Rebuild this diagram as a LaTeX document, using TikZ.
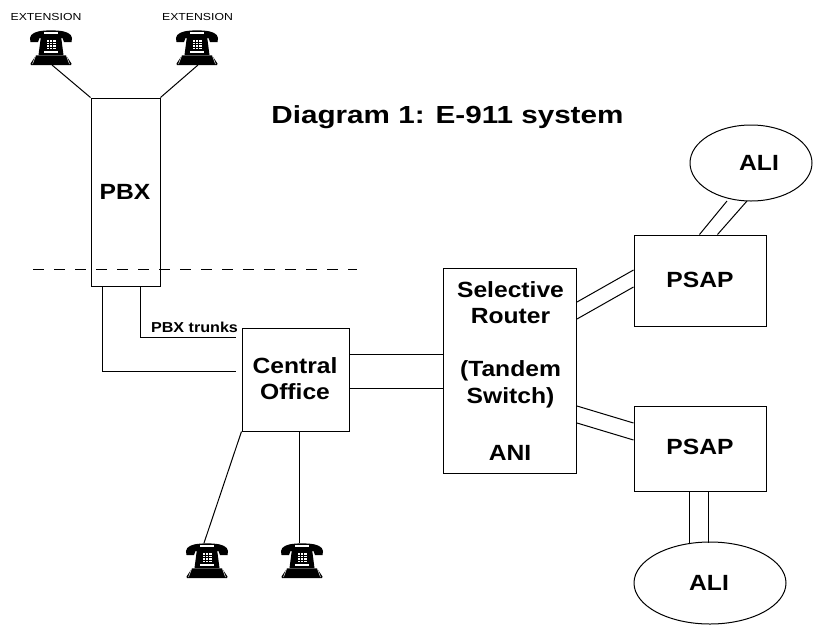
\documentclass[tikz,border=0pt]{standalone}
\usepackage{fontspec}
\setmainfont[FakeStretch=1.12]{Liberation Sans}
\newfontfamily\widefont[FakeStretch=1.2]{Liberation Sans}
\usetikzlibrary{shapes.geometric,calc}
\tikzset{
  box/.style={draw=black,line width=1pt,inner sep=0pt},
  oval/.style={box,ellipse},
  lab/.style={inner sep=0pt,align=center,font=\fontsize{22}{26.5}\selectfont\bfseries},
  wire/.style={draw=black,line width=1pt},
  phone/.pic={
    % handset
    \fill[black] (0.5,12) .. controls (-1.5,6) and (2,3) .. (8,1.5) .. controls (14,0) and (28,0) .. (34,1.5)
      .. controls (40,3) and (43.5,6) .. (41.5,12) -- (34,12) -- (32.5,8) -- (9.5,8) -- (8,12) -- cycle;
    \fill[white] (14,2.2) rectangle (28,4.4);
    % cradle and body
    \fill[black] (11,6) -- (31,6) -- (33.5,25) -- (8.5,25) -- cycle;
    \foreach \c in {0,1,2}{\foreach \r in {0,1,2,3}{
      \fill[white] ({16.5+\c*3.4},{10+\r*2.6}) rectangle +(2.2,1.5);}}
    \fill[white] (14,21) rectangle (28,22.6);
    % base
    \fill[black] (6,25.4) -- (36,25.4) -- (41.5,33.5) -- (41,35) -- (1,35) -- (0.5,33.5) -- cycle;
    \draw[white,line width=0.5pt] (5.5,26) -- (2.5,34) (36.5,26) -- (39.5,34);
    \coordinate (-top) at (18,0);
    \coordinate (-base) at (22,35);
  }
}
\begin{document}
\begin{tikzpicture}[x=1pt,y=-1pt]
\useasboundingbox (0,0) rectangle (817,625);
\node[box,minimum width=69pt,minimum height=188pt] (pbx) at (125.5,192) {};
\node[lab] (pbxl) at (125,192) {PBX};
\node[box,minimum width=107pt,minimum height=103pt] (co) at (295.5,379.5) {};
\node[lab] (col) at (295,378.5) {Central\\Office};
\node[box,minimum width=133pt,minimum height=204.5pt] (sr) at (510,371) {};
\node[lab] (srt) at (510.5,302.5) {Selective\\Router};
\node[lab] (srm) at (510.5,384.5) {(Tandem\\Switch)};
\node[lab] (ani) at (510,453) {ANI};
\node[box,minimum width=132pt,minimum height=91pt] (p1) at (700,280.5) {};
\node[lab] (p1l) at (700,280) {PSAP};
\node[box,minimum width=132pt,minimum height=85pt] (p2) at (700,448.5) {};
\node[lab] (p2l) at (700,447) {PSAP};
\node[oval,minimum width=122pt,minimum height=76pt] (a1) at (751,163) {};
\node[lab] (a1l) at (759,163) {ALI};
\node[oval,minimum width=152pt,minimum height=82pt] (a2) at (710,583) {};
\node[lab] (a2l) at (709,583) {ALI};
\node[font=\widefont\fontsize{24.7}{30}\selectfont\bfseries,inner sep=0pt] (title) at (447.5,117) {Diagram 1: E-911 system};
\node[font=\widefont\fontsize{10.2}{13}\selectfont,inner sep=0pt] (e1) at (46,17) {EXTENSION};
\node[font=\widefont\fontsize{10.2}{13}\selectfont,inner sep=0pt] (e2) at (197.5,17) {EXTENSION};
\node[font=\fontsize{14.4}{16}\selectfont\bfseries,inner sep=0pt] (tr) at (194.5,327) {PBX trunks};
\pic (t1) at (30,30) {phone};
\pic (t2) at (176,30) {phone};
\pic (t3) at (186,543) {phone};
\pic (t4) at (281,543) {phone};
\coordinate (d1) at (33,269);
\coordinate (d2) at (357,269);
\draw[wire,dash pattern=on 10.5pt off 10.5pt] (d1) -- (d2);
\draw[wire] (t1-base) -- (pbx.north west);
\draw[wire] (t2-base) -- (pbx.north east);
\coordinate (tk1) at (236,337);
\coordinate (tk2) at (236,371);
\draw[wire] ($(pbx.south west)+(50,0)$) |- (tk1);
\draw[wire] ($(pbx.south west)+(12,0)$) |- (tk2);
\foreach \yy in {354,388}{\draw[wire] (co.east |- 0,\yy) -- (sr.west |- 0,\yy);}
\draw[wire] (co.south west) -- (t3-top);
\draw[wire] (t4-top |- co.south) -- (t4-top);
\draw[wire] (sr.east |- 0,302) -- (p1.west |- 0,270);
\draw[wire] (sr.east |- 0,319) -- (p1.west |- 0,287);
\draw[wire] (sr.east |- 0,406) -- (p2.west |- 0,423);
\draw[wire] (sr.east |- 0,423) -- (p2.west |- 0,440);
\coordinate (a1a) at (727,201);
\coordinate (a1b) at (747,201);
\draw[wire] ($(p1.north west)+(66,0)$) -- (a1a);
\draw[wire] ($(p1.north west)+(84,0)$) -- (a1b);
\draw[wire] ($(p2.south west)+(56,0)$) -- ($(p2.south west)+(56,51)$);
\draw[wire] ($(p2.south west)+(75,0)$) -- ($(p2.south west)+(75,51)$);
\end{tikzpicture}
\end{document}
